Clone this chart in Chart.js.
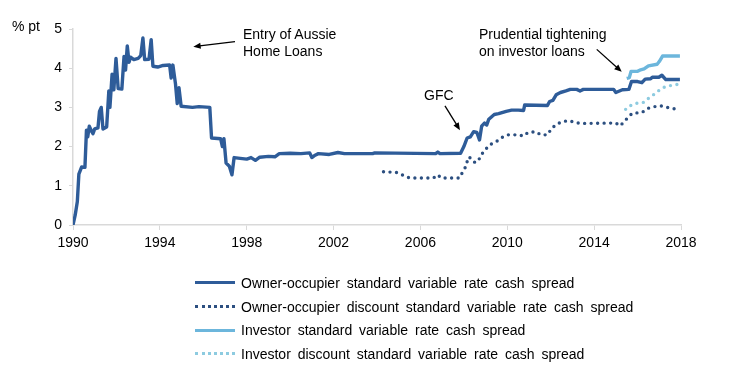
<!DOCTYPE html>
<html>
<head>
<meta charset="utf-8">
<script src="https://cdn.jsdelivr.net/npm/chart.js@4/dist/chart.umd.min.js"></script>
<style>
  body { margin: 0; background: #fff; font-family: "Liberation Sans", Arial, sans-serif; color: #000; }
  #wrap { position: relative; width: 736px; height: 379px; }
  .note { position: absolute; font-size: 14px; line-height: 17px; white-space: nowrap; }
  #legend { position: absolute; left: 195px; top: 271px; font-size: 14px; }
  .row { display: flex; align-items: center; height: 23.7px; }
  .swatch { width: 40px; height: 0; margin-right: 6px; }
  .label { word-spacing: 3px; white-space: nowrap; }
</style>
</head>
<body>
<div id="wrap">
  <canvas id="chart" width="736" height="379"></canvas>
  <div class="note" style="left:12px;top:18px;">% pt</div>
  <div class="note" style="left:243px;top:26px;">Entry of Aussie<br>Home Loans</div>
  <div class="note" style="left:424px;top:87px;">GFC</div>
  <div class="note" style="left:479px;top:26px;">Prudential tightening<br>on investor loans</div>
  <div id="legend"></div>
</div>
<script>
// Owner-occupier standard variable rate cash spread
const ooSvrYears = [
  1990.0, 1990.1, 1990.2, 1990.27, 1990.4, 1990.55, 1990.62, 1990.68, 1990.75, 1990.85,
  1990.92, 1991.0, 1991.15, 1991.22, 1991.3, 1991.38, 1991.55, 1991.65, 1991.7, 1991.8,
  1991.88, 1991.98, 1992.08, 1992.25, 1992.35, 1992.42, 1992.5, 1992.58, 1992.65, 1992.8,
  1993.0, 1993.12, 1993.22, 1993.3, 1993.5, 1993.6, 1993.68, 1993.9, 1994.15, 1994.45,
  1994.52, 1994.6, 1994.72, 1994.8, 1994.88, 1994.98, 1995.5, 1995.8, 1996.3, 1996.38,
  1996.8, 1996.88, 1996.95, 1997.05, 1997.2, 1997.32, 1997.42, 1997.7, 1998.0, 1998.2,
  1998.4, 1998.6, 1999.0, 1999.3, 1999.5, 2000.0, 2000.5, 2000.9, 2001.0, 2001.15,
  2001.3, 2001.8, 2002.2, 2002.5, 2003.8, 2003.9, 2006.7, 2006.8, 2006.9, 2007.85,
  2008.0, 2008.15, 2008.3, 2008.45, 2008.6, 2008.72, 2008.82, 2008.95, 2009.05, 2009.15,
  2009.4, 2009.6, 2009.95, 2010.2, 2010.5, 2010.75, 2010.8, 2011.85, 2011.95, 2012.1,
  2012.25, 2012.45, 2012.7, 2012.9, 2013.2, 2013.35, 2013.5, 2014.9, 2015.0, 2015.3,
  2015.6, 2015.72, 2016.0, 2016.2, 2016.35, 2016.6, 2016.68, 2016.98, 2017.12, 2017.3,
  2017.95
];
const ooSvrValues = [
  0.0, 0.25, 0.6, 1.3, 1.48, 1.47, 2.42, 2.25, 2.52, 2.4,
  2.33, 2.45, 2.48, 2.9, 3.0, 2.45, 2.5, 3.42, 3.0, 3.85,
  3.45, 4.25, 3.48, 3.47, 4.3, 3.95, 4.57, 4.15, 4.28, 4.22,
  4.25, 4.32, 4.77, 4.22, 4.23, 4.73, 4.05, 4.03, 4.07, 4.08,
  3.75, 4.08, 3.6, 3.1, 3.5, 3.03, 3.0, 3.02, 3.0, 2.22,
  2.2, 2.0, 2.2, 1.58, 1.5, 1.28, 1.72, 1.7, 1.68, 1.72,
  1.65, 1.73, 1.75, 1.74, 1.82, 1.83, 1.82, 1.84, 1.72, 1.78,
  1.82, 1.8, 1.85, 1.82, 1.82, 1.84, 1.82, 1.86, 1.82, 1.83,
  2.0, 2.22, 2.25, 2.38, 2.36, 2.17, 2.52, 2.6, 2.55, 2.7,
  2.82, 2.84, 2.9, 2.93, 2.93, 2.92, 3.06, 3.05, 3.15, 3.18,
  3.32, 3.38, 3.42, 3.46, 3.46, 3.42, 3.46, 3.46, 3.38, 3.45,
  3.46, 3.66, 3.66, 3.63, 3.72, 3.73, 3.77, 3.77, 3.82, 3.71,
  3.71
];

// Owner-occupier discount standard variable rate cash spread
const ooDiscYears = [
  2004.3, 2004.9, 2005.2, 2005.5, 2006.6, 2006.8, 2006.95, 2007.8, 2007.95, 2008.1,
  2008.2, 2008.35, 2008.5, 2008.65, 2008.8, 2009.0, 2009.2, 2009.5, 2009.7, 2010.0,
  2010.5, 2010.75, 2010.95, 2011.3, 2011.55, 2011.85, 2012.05, 2012.3, 2012.55, 2012.85,
  2013.1, 2013.4, 2014.7, 2015.0, 2015.2, 2015.45, 2015.75, 2016.2, 2016.5, 2016.8,
  2017.05, 2017.35, 2017.95
];
const ooDiscValues = [
  1.36, 1.34, 1.27, 1.2, 1.2, 1.28, 1.2, 1.2, 1.36, 1.5,
  1.73, 1.7, 1.6, 1.62, 1.79, 1.93, 2.05, 2.13, 2.22, 2.3,
  2.3, 2.27, 2.36, 2.38, 2.3, 2.3, 2.47, 2.58, 2.64, 2.66,
  2.62, 2.59, 2.6, 2.6, 2.53, 2.68, 2.85, 2.87, 2.98, 3.02,
  3.04, 3.0, 2.94
];

// Investor standard variable rate cash spread
const invSvrYears = [2015.5, 2015.62, 2015.7, 2016.0, 2016.1, 2016.3, 2016.5, 2016.9, 2017.0, 2017.15, 2017.95];
const invSvrValues = [3.74, 3.76, 3.92, 3.92, 3.95, 3.98, 4.06, 4.1, 4.17, 4.31, 4.31];

// Investor discount standard variable rate cash spread
const invDiscYears = [2015.45, 2015.65, 2015.9, 2016.3, 2016.5, 2016.75, 2016.98, 2017.2, 2017.45, 2017.95];
const invDiscValues = [2.95, 3.04, 3.1, 3.13, 3.23, 3.33, 3.43, 3.51, 3.55, 3.6];

const seriesNames = [
  'Owner-occupier standard variable rate cash spread',
  'Owner-occupier discount standard variable rate cash spread',
  'Investor standard variable rate cash spread',
  'Investor discount standard variable rate cash spread'
];
const seriesColors = ['#2e5c99', '#2c4f80', '#6cb6dc', '#8dcbe0'];
const seriesDotted = [false, true, false, true];

const xTicks = [1990, 1994, 1998, 2002, 2006, 2010, 2014, 2018];
const yTicks = [0, 1, 2, 3, 4, 5];

// arrows: [fromYear, fromValue, toYear, toValue]
const arrows = [
  [1997.46, 4.68, 1995.54, 4.55],
  [2007.13, 3.04, 2007.82, 2.42],
  [2014.12, 4.48, 2015.27, 3.91]
];

function pts(xs, ys) {
  return xs.map((x, i) => ({ x, y: ys[i] }));
}

const allData = [
  pts(ooSvrYears, ooSvrValues),
  pts(ooDiscYears, ooDiscValues),
  pts(invSvrYears, invSvrValues),
  pts(invDiscYears, invDiscValues)
];

const datasets = allData.map((d, i) => ({
  label: seriesNames[i],
  data: d,
  borderColor: seriesColors[i],
  backgroundColor: seriesColors[i],
  borderWidth: 3.4,
  borderDash: seriesDotted[i] ? [0, 6.5] : [],
  borderCapStyle: seriesDotted[i] ? 'round' : 'butt',
  borderJoinStyle: 'round',
  pointRadius: 0,
  tension: 0,
  fill: false
}));

const arrowPlugin = {
  id: 'arrows',
  afterDatasetsDraw(chart) {
    const { ctx, scales: { x, y } } = chart;
    ctx.save();
    ctx.strokeStyle = '#000';
    ctx.fillStyle = '#000';
    ctx.lineWidth = 1.3;
    arrows.forEach(a => {
      const x1 = x.getPixelForValue(a[0]), y1 = y.getPixelForValue(a[1]);
      const x2 = x.getPixelForValue(a[2]), y2 = y.getPixelForValue(a[3]);
      const ang = Math.atan2(y2 - y1, x2 - x1);
      const head = 8;
      ctx.beginPath();
      ctx.moveTo(x1, y1);
      ctx.lineTo(x2 - Math.cos(ang) * head * 0.8, y2 - Math.sin(ang) * head * 0.8);
      ctx.stroke();
      ctx.beginPath();
      ctx.moveTo(x2, y2);
      ctx.lineTo(x2 - head * Math.cos(ang - 0.4), y2 - head * Math.sin(ang - 0.4));
      ctx.lineTo(x2 - head * Math.cos(ang + 0.4), y2 - head * Math.sin(ang + 0.4));
      ctx.closePath();
      ctx.fill();
    });
    ctx.restore();
  }
};

const tickFont = { family: '"Liberation Sans", Arial, sans-serif', size: 14 };
const axisGrey = '#d9d9d9';

new Chart(document.getElementById('chart'), {
  type: 'line',
  data: { datasets },
  options: {
    responsive: false,
    animation: false,
    layout: { padding: { left: 0, right: 55, top: 29, bottom: 124 } },
    plugins: { legend: { display: false }, tooltip: { enabled: false } },
    scales: {
      x: {
        type: 'linear',
        min: 1990,
        max: 2018,
        afterFit: s => { s.height = 30; },
        afterBuildTicks: s => { s.ticks = xTicks.map(v => ({ value: v })); },
        ticks: { font: tickFont, color: '#000', padding: 5, maxRotation: 0, callback: v => String(v) },
        grid: { drawOnChartArea: false, drawTicks: true, tickLength: 5, color: axisGrey },
        border: { color: axisGrey, width: 1.5 }
      },
      y: {
        min: 0,
        max: 5,
        afterFit: s => { s.width = 73; },
        afterBuildTicks: s => { s.ticks = yTicks.map(v => ({ value: v })); },
        ticks: { font: tickFont, color: '#000', padding: 7 },
        grid: { drawOnChartArea: false, drawTicks: true, tickLength: 4, color: axisGrey },
        border: { color: axisGrey, width: 1.5 }
      }
    }
  },
  plugins: [arrowPlugin]
});

// legend as html rows
const legend = document.getElementById('legend');
seriesNames.forEach((name, i) => {
  const row = document.createElement('div');
  row.className = 'row';
  const sw = document.createElement('span');
  sw.className = 'swatch';
  sw.style.borderTop = `3px ${seriesDotted[i] ? 'dotted' : 'solid'} ${seriesColors[i]}`;
  const lab = document.createElement('span');
  lab.className = 'label';
  lab.textContent = name;
  row.appendChild(sw);
  row.appendChild(lab);
  legend.appendChild(row);
});
</script>
</body>
</html>
